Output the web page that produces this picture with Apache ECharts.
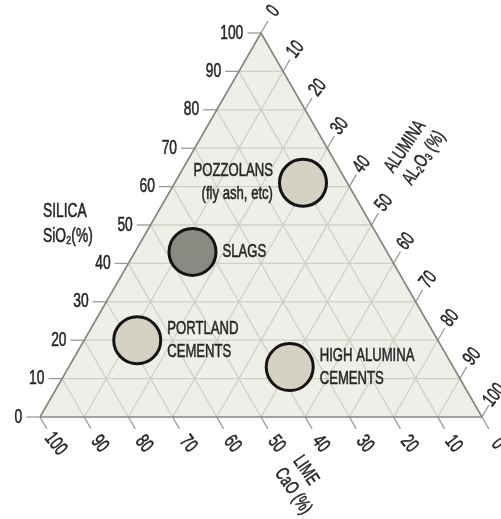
<!DOCTYPE html>
<html><head><meta charset="utf-8">
<script src="https://cdn.jsdelivr.net/npm/echarts@6/dist/echarts.min.js"></script>
<style>html,body{margin:0;padding:0;background:#fff}#c{width:501px;height:519px}</style>
</head><body><div id="c"></div>
<script>
// ---- data ----
const ticks = [0, 10, 20, 30, 40, 50, 60, 70, 80, 90, 100];
const silicaTickLabels = ['0','10','20','30','40','50','60','70','80','90','100'];
const aluminaTickLabels = ['0','10','20','30','40','50','60','70','80','90','100'];
const limeTickLabels = ['0','10','20','30','40','50','60','70','80','90','100'];
const groupNames = ['POZZOLANS\n(fly ash, etc)', 'SLAGS', 'PORTLAND\nCEMENTS', 'HIGH ALUMINA\nCEMENTS'];
const groupSilica = [61, 43, 20, 13];
const groupAlumina = [29, 13, 12, 50];
const groupLime = [10, 44, 68, 37];

// ---- styles ----
const groupFills = ['#d5d1c4', '#8a8a83', '#d5d1c4', '#d5d1c4'];
const groupLabelSide = ['left', 'right', 'right', 'right'];
const FAM = "'Liberation Sans', Arial, sans-serif";
const SX = 0.69;          // condensed look
const TXT = '#262626';
const BOLDEN = 0.55;

const H = Math.sqrt(3) / 2;
// ternary (silica, alumina) -> cartesian data coords
function tern(si, al) { return [al + si / 2, si * H]; }

// grid lines
const gridSegs = [];
ticks.filter(t => t > 0 && t < 100).forEach(t => {
  gridSegs.push([...tern(t, 0), ...tern(t, 100 - t)]);       // silica const
  gridSegs.push([...tern(0, t), ...tern(100 - t, t)]);       // alumina const
  gridSegs.push([...tern(0, 100 - t), ...tern(100 - t, 0)]); // lime const
});
const edgeSegs = [
  [...tern(0, 0), ...tern(0, 100)],
  [...tern(0, 100), ...tern(100, 0)],
  [...tern(100, 0), ...tern(0, 0)]
];
const TL = 3.1, LA = 5.7, LL = 7.0;
const tickSegs = [];
const silicaLabelPts = [], aluminaLabelPts = [], limeLabelPts = [];
ticks.forEach((t, i) => {
  const ps = tern(t, 0);
  tickSegs.push([ps[0], ps[1], ps[0] - TL, ps[1]]);
  silicaLabelPts.push({ x: ps[0] - TL, y: ps[1], text: silicaTickLabels[i] });
  const pa = tern(100 - t, t);
  tickSegs.push([pa[0], pa[1], pa[0] + TL * 0.5, pa[1] + TL * H]);
  aluminaLabelPts.push({ x: pa[0] + LA * 0.5, y: pa[1] + LA * H, text: aluminaTickLabels[i] });
  const pl = tern(0, 100 - t);
  tickSegs.push([pl[0], pl[1], pl[0] + TL * 0.5, pl[1] - TL * H]);
  limeLabelPts.push({ x: pl[0] + LL * 0.5, y: pl[1] - LL * H, text: limeTickLabels[i] });
});

const groupData = groupNames.map((n, i) => ({
  name: n,
  value: tern(groupSilica[i], groupAlumina[i]),
  itemStyle: { color: groupFills[i] }
}));
const groupLabelPts = groupNames.map((n, i) => {
  const p = tern(groupSilica[i], groupAlumina[i]);
  const left = groupLabelSide[i] === 'left';
  return { x: p[0], y: p[1], text: n, dx: left ? -30 : 30, align: left ? 'right' : 'left' };
});

function segSeries(data, color, width, z) {
  return {
    type: 'custom', z: z, silent: true, clip: false,
    encode: { x: [0, 2], y: [1, 3] },
    data: data,
    renderItem: function (params, api) {
      const a = api.coord([api.value(0), api.value(1)]);
      const b = api.coord([api.value(2), api.value(3)]);
      return { type: 'line', shape: { x1: a[0], y1: a[1], x2: b[0], y2: b[1] },
               style: { stroke: color, lineWidth: width } };
    }
  };
}
function textSeries(items, o) {
  return {
    type: 'custom', z: 8, silent: true, clip: false,
    data: items.map(it => [it.x, it.y]),
    renderItem: function (params, api) {
      const it = items[params.dataIndex];
      const p = api.coord([api.value(0), api.value(1)]);
      return {
        type: 'text', x: p[0] + (it.dx || o.dx || 0), y: p[1] + (it.dy || 0),
        rotation: (o.rot || 0) * Math.PI / 180, scaleX: SX, scaleY: 1,
        style: { text: it.text, align: it.align || o.align, verticalAlign: 'middle',
                 fontFamily: FAM, fontSize: o.size, lineHeight: o.lh || o.size, fill: TXT,
                 stroke: TXT, lineWidth: BOLDEN }
      };
    }
  };
}

const chart = echarts.init(document.getElementById('c'), null, { renderer: 'canvas' });
chart.setOption({
  animation: false,
  backgroundColor: '#ffffff',
  grid: { left: 40, top: 33, width: 442, height: 384 },
  xAxis: { type: 'value', min: 0, max: 100, show: false },
  yAxis: { type: 'value', min: 0, max: 100 * H, show: false },
  series: [
    {
      type: 'custom', z: 1, silent: true, clip: false,
      data: [[0]],
      renderItem: function (params, api) {
        const pts = [tern(0, 0), tern(0, 100), tern(100, 0)].map(p => api.coord(p));
        return { type: 'polygon', shape: { points: pts }, style: { fill: '#efefea' } };
      }
    },
    segSeries(gridSegs, '#cfcfc5', 1.3, 2),
    segSeries(tickSegs, '#9a9a96', 1.3, 2),
    segSeries(edgeSegs, '#858580', 1.6, 3),
    textSeries(silicaLabelPts, { size: 20, align: 'right', dx: -4 }),
    textSeries(aluminaLabelPts, { size: 20, align: 'center', rot: 52 }),
    textSeries(limeLabelPts, { size: 20, align: 'center', rot: -52 }),
    {
      type: 'scatter', z: 5, silent: true, clip: false, symbolSize: 47,
      itemStyle: { borderColor: '#141414', borderWidth: 3, opacity: 1 },
      data: groupData
    },
    textSeries(groupLabelPts, { size: 19, lh: 23 })
  ],
  graphic: [
    { type: 'text', x: 43, y: 199, z: 10, scaleX: SX,
      style: { text: 'SILICA\nSiO₂(%)', fontFamily: FAM, fontSize: 20, lineHeight: 25, fill: TXT,
               stroke: TXT, lineWidth: BOLDEN } },
    { type: 'text', x: 398, y: 177, rotation: 56 * Math.PI / 180, scaleX: SX, z: 10,
      style: { text: 'ALUMINA\nAL₂O₃ (%)', align: 'left', verticalAlign: 'middle',
               fontFamily: FAM, fontSize: 19, lineHeight: 22, fill: TXT, stroke: TXT, lineWidth: BOLDEN } },
    { type: 'text', x: 288, y: 464, rotation: -56 * Math.PI / 180, scaleX: SX, z: 10,
      style: { text: 'LIME\nCaO (%)', align: 'left', verticalAlign: 'middle',
               fontFamily: FAM, fontSize: 19, lineHeight: 22, fill: TXT, stroke: TXT, lineWidth: BOLDEN } }
  ]
});
</script></body></html>
